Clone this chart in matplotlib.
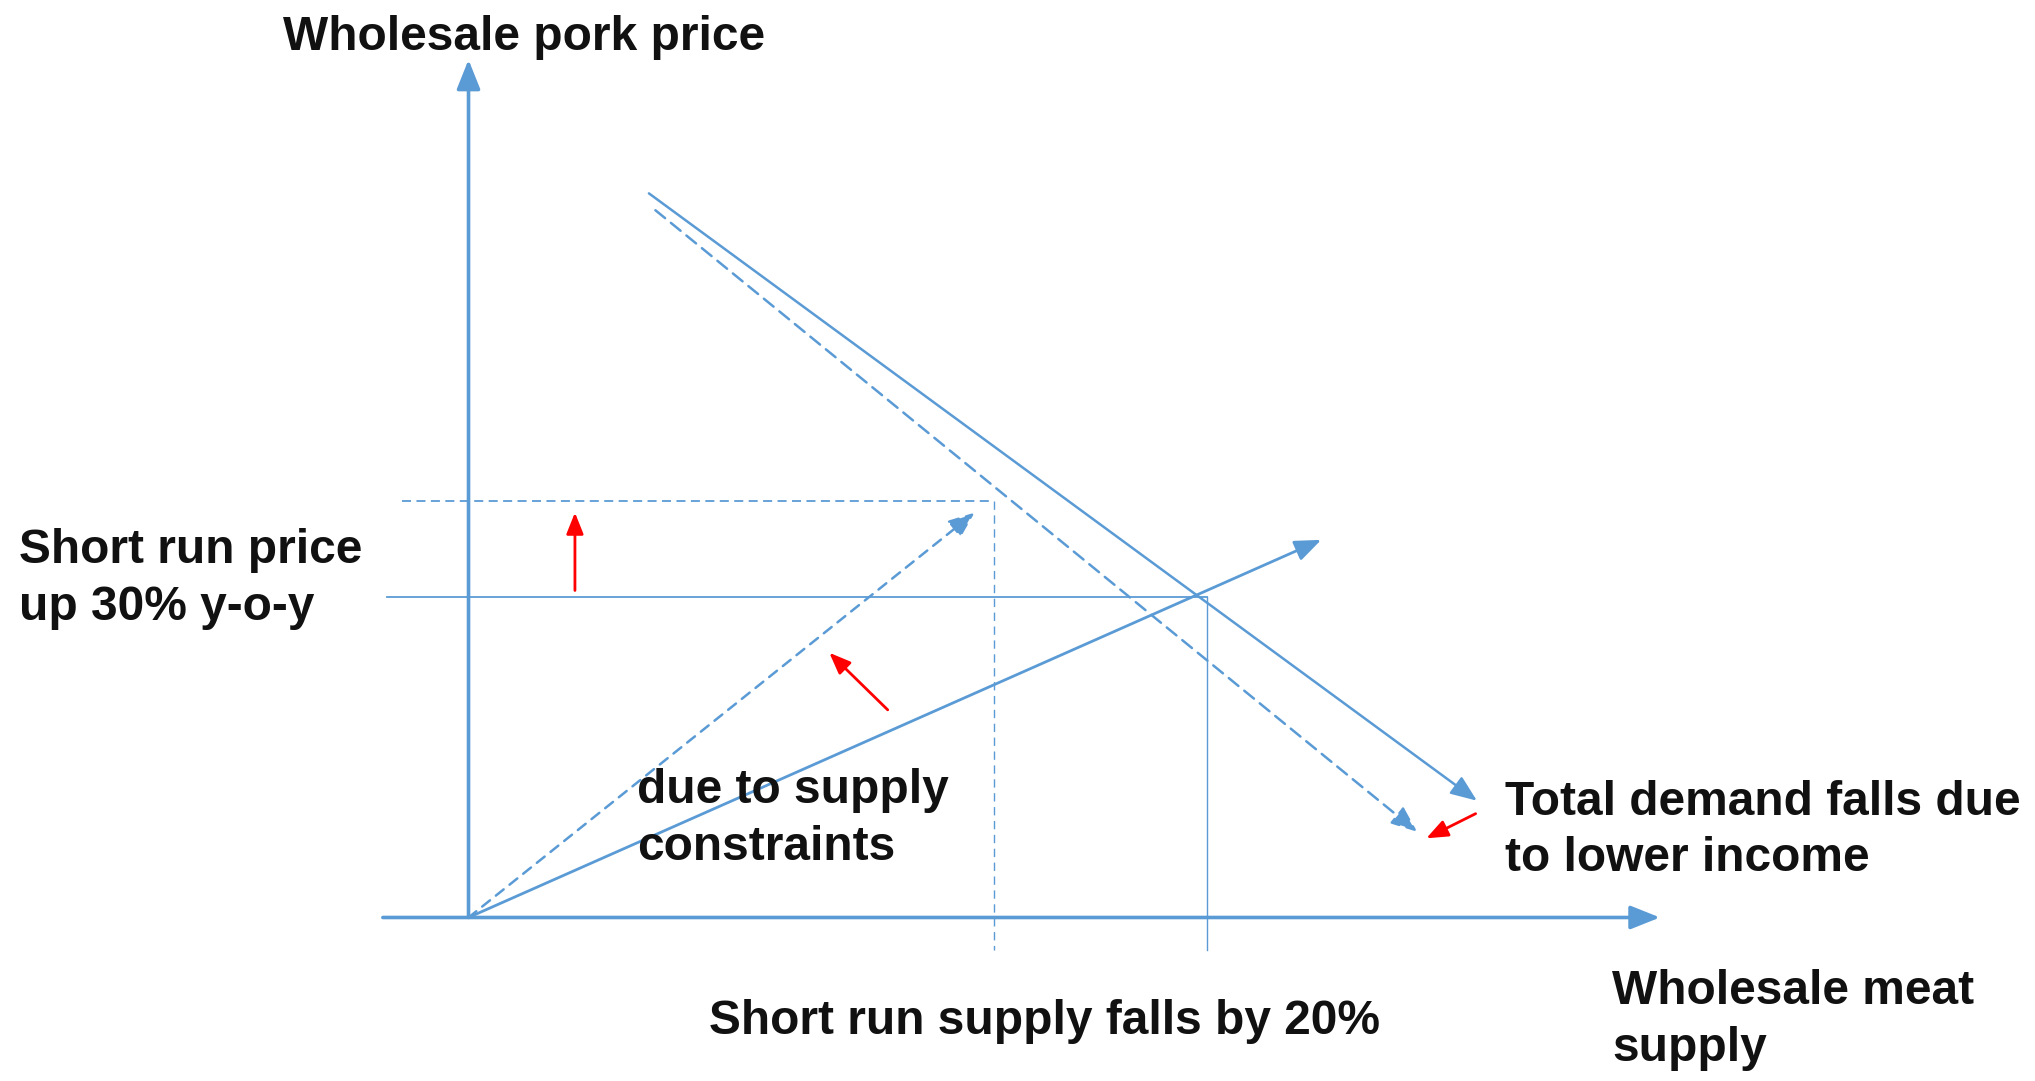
import matplotlib.pyplot as plt
from matplotlib import font_manager

# ==========================================
# DIAGRAM GEOMETRY (reference frame 1568 x 833, y downward)
# ==========================================
W, H = 1568, 833
BLUE = '#5B9BD5'
RED = '#FF0000'

origin = (361, 707)
y_axis_top = (361, 46)
x_axis = [(295, 707), (1279, 707)]

supply_solid = [(361, 707), (1018, 416)]
supply_dashed = [(361, 707), (751, 395)]
demand_solid = [(500, 149), (1138, 617)]
demand_dashed = [(505, 162), (1092, 641)]

price_line = [(298, 460), (930, 460)]
qty_line = [(930, 460), (930, 732)]
price_line_new = [(310, 386), (766, 386)]
qty_line_new = [(766, 386), (766, 732)]

red_arrows = [
    [(443, 455), (443, 395)],
    [(684, 547), (639, 503)],
    [(1137, 627), (1099, 646)],
]

labels = [
    ("Wholesale pork price", 218, 29),
    ("Short run price\nup 30% y-o-y", 15, 446),
    ("due to supply\nconstraints", 491, 631),
    ("Total demand falls due\nto lower income", 1160, 640),
    ("Short run supply falls by 20%", 546, 787),
    ("Wholesale meat\nsupply", 1242, 786),
]

# ==========================================
# FONT PICK
# ==========================================
installed = {f.name for f in font_manager.fontManager.ttflist}
FONT = 'Liberation Sans Narrow' if 'Liberation Sans Narrow' in installed else 'Liberation Sans'
FSIZE = 38 if FONT == 'Liberation Sans Narrow' else 34.5

fig = plt.figure(figsize=(20.35, 10.81), dpi=100)
ax = fig.add_axes([0, 0, 1, 1])
ax.set_xlim(0, W)
ax.set_ylim(H, 0)
ax.axis('off')


def arrow(p0, p1, color=BLUE, lw=2.0, ls='-', head=16):
    ax.annotate('', xy=p1, xytext=p0,
                arrowprops=dict(arrowstyle=f'-|>,head_length={head/10:.2f},head_width={head/25:.2f}',
                                color=color, lw=lw, linestyle=ls,
                                shrinkA=0, shrinkB=0))


def line(pts, lw=1.5, ls='-'):
    xs, ys = zip(*pts)
    ax.plot(xs, ys, color=BLUE, lw=lw, linestyle=ls)


# axes of the diagram
arrow(origin, y_axis_top, lw=2.6, head=18)
arrow(x_axis[0], x_axis[1], lw=2.6, head=18)

# guide lines
line(price_line, lw=1.3)
line(qty_line, lw=1.0)
line(price_line_new, lw=1.3, ls=(0, (5, 3)))
line(qty_line_new, lw=1.0, ls=(0, (6, 4)))

# supply and demand curves
arrow(*supply_solid, lw=2.0)
arrow(*supply_dashed, lw=1.8, ls=(0, (4, 3)))
arrow(*demand_solid, lw=1.8)
arrow(*demand_dashed, lw=1.8, ls=(0, (5, 3)))

# red shift arrows
for p0, p1 in red_arrows:
    arrow(p0, p1, color=RED, lw=2.0, head=13)

for txt, x, y in labels:
    ax.text(x, y, txt, fontsize=FSIZE, fontweight='bold', family=FONT,
            color='#111111', ha='left', va='center', linespacing=1.33)

fig.savefig('out.png', dpi=100, facecolor='white')
